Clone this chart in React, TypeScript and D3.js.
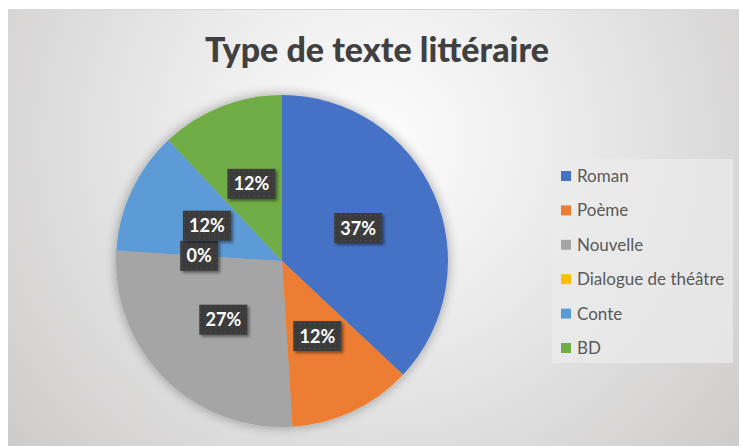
import React from "react";
import * as d3 from "d3";

const categories = ["Roman", "Poème", "Nouvelle", "Dialogue de théâtre", "Conte", "BD"];
const values = [37, 12, 27, 0, 12, 12];
const colors = ["#4472C4", "#ED7D31", "#A5A5A5", "#FFC000", "#5B9BD5", "#70AD47"];
const title = "Type de texte littéraire";

const W = 739;
const H = 446;

export default function App() {
  const cx = 282;
  const cy = 261;
  const r = 166;
  const total = d3.sum(values);
  const pie = d3.pie<number>().sort(null).value((d) => d)(values);
  const arc = d3.arc<d3.PieArcDatum<number>>().innerRadius(0).outerRadius(r);
  const fmt = (v: number) => `${Math.round((v / total) * 100)}%`;

  const legendY = d3.scalePoint<string>().domain(categories).range([176, 348]);

  return (
    <div style={{ position: "absolute", left: 0, top: 0, width: W, height: H, background: "#fff" }}>
      <svg width={W} height={H} style={{ display: "block" }}>
        <defs>
          <radialGradient id="bg" cx="376" cy="140" r="520" gradientUnits="userSpaceOnUse">
            <stop offset="0" stopColor="#fdfdfd" />
            <stop offset="0.35" stopColor="#ececec" />
            <stop offset="1" stopColor="#c9c7c6" />
          </radialGradient>
          <pattern id="dots" width="5" height="5" patternUnits="userSpaceOnUse">
            <rect width="5" height="5" fill="#3b3b3b" />
            <rect x="2" y="2" width="1" height="1" fill="#585858" />
          </pattern>
          <filter id="shadow" x="-30%" y="-30%" width="160%" height="160%">
            <feDropShadow dx="2" dy="2" stdDeviation="1.5" floodColor="#000" floodOpacity="0.45" />
          </filter>
          <filter id="pieShadow" x="-20%" y="-20%" width="140%" height="140%">
            <feGaussianBlur in="SourceAlpha" stdDeviation="6" />
            <feOffset dx="0" dy="0" />
            <feComponentTransfer>
              <feFuncA type="linear" slope="0.35" />
            </feComponentTransfer>
            <feMerge>
              <feMergeNode />
              <feMergeNode in="SourceGraphic" />
            </feMerge>
          </filter>
        </defs>
        <rect x={8} y={9} width={W - 8} height={H - 9} fill="url(#bg)" />
        <line x1={8} y1={9.5} x2={W} y2={9.5} stroke="#d8d8d8" strokeWidth={1} />
        <text
          x={377}
          y={62}
          textAnchor="middle"
          fontFamily="Lato, 'Noto Sans', sans-serif"
          fontWeight="900"
          fontSize={34}
          fill="#404040"
        >
          {title}
        </text>
        <g transform={`translate(${cx},${cy})`}>
          <g filter="url(#pieShadow)">
            {pie.map((d, i) => (
              <path key={i} d={arc(d) || ""} fill={colors[i]} />
            ))}
          </g>
          {pie.map((d, i) => {
            const [lx, ly] = arc.centroid(d);
            const label = fmt(d.data);
            const bw = 10 * label.length + 18;
            const bh = 30;
            return (
              <g key={"l" + i} transform={`translate(${lx},${ly})`}>
                <rect
                  x={-bw / 2}
                  y={-bh / 2}
                  width={bw}
                  height={bh}
                  fill="url(#dots)"
                  filter="url(#shadow)"
                />
                <text
                  textAnchor="middle"
                  dy="0.36em"
                  fontFamily="Lato, 'Noto Sans', sans-serif"
                  fontWeight="bold"
                  fontSize={18}
                  fill="#ffffff"
                >
                  {label}
                </text>
              </g>
            );
          })}
        </g>
        <rect x={552} y={159} width={181} height={204} fill="#ebebeb" opacity={0.75} />
        {categories.map((c, i) => {
          const y = legendY(c) as number;
          return (
            <g key={c}>
              <rect x={561} y={y - 5} width={10} height={10} fill={colors[i]} />
              <text
                x={577}
                y={y}
                dy="0.35em"
                fontFamily="Lato, 'Noto Sans', sans-serif"
                fontSize={17}
                fill="#595959"
              >
                {c}
              </text>
            </g>
          );
        })}
      </svg>
    </div>
  );
}
